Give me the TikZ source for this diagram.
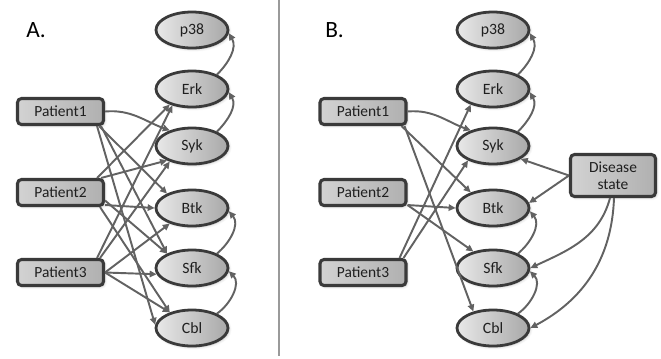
\documentclass[tikz,border=0pt]{standalone}
\usepackage{fontspec}
\setmainfont{Carlito}
\usetikzlibrary{shapes.geometric,arrows.meta,calc,shadows.blur}
\definecolor{edgec}{HTML}{626262}
\definecolor{bordc}{HTML}{3A3A3A}
\definecolor{divc}{HTML}{9A9A9A}
\begin{document}
\begin{tikzpicture}[x=0.75pt,y=0.75pt,
  shad/.style={blur shadow={shadow blur steps=6,shadow xshift=1pt,shadow yshift=-1pt,shadow opacity=22}},
  prot/.style={ellipse,draw=bordc,line width=2.1pt,minimum width=54pt,minimum height=27pt,inner sep=0pt,
    left color=gray!18,right color=gray!68,shad,font=\fontsize{11.8}{13}\selectfont,text=black!88},
  pat/.style={rectangle,rounded corners=3pt,draw=bordc,line width=2.3pt,minimum width=64.5pt,minimum height=19.5pt,inner sep=0pt,
    left color=gray!35,middle color=gray!14,right color=gray!62,shad,font=\fontsize{11.6}{13}\selectfont,text=black!88},
  dis/.style={pat,minimum width=63.75pt,minimum height=31.5pt,align=center,font=\fontsize{11.6}{12.5}\selectfont},
  arr/.style={draw=edgec,line width=1.45pt,-{Triangle[length=5.2pt,width=4.8pt]}},
  panel/.style={font=\fontsize{17.5}{20}\selectfont,inner sep=0pt,anchor=base west}
]
\useasboundingbox (0,0) rectangle (661,-358);

% divider
\coordinate (dtop) at (279,0);
\coordinate (dbot) at (279,-356);
\draw[divc,line width=0.8pt] (dtop) -- (dbot);

% panel labels
\node[panel] (labA) at (26,-37) {A.};
\node[panel] (labB) at (325,-37) {B.};

% ---------- Panel A ----------
\node[prot] (p38A) at (192,-30) {p38};
\node[prot] (ErkA) at (192,-89) {Erk};
\node[prot] (SykA) at (192,-146) {Syk};
\node[prot] (BtkA) at (192,-208) {Btk};
\node[prot] (SfkA) at (192,-268) {Sfk};
\node[prot] (CblA) at (192,-328) {Cbl};
\node[pat] (P1A) at (60.5,-111.5) {Patient1};
\node[pat] (P2A) at (60.5,-192.5) {Patient2};
\node[pat] (P3A) at (60.5,-272.5) {Patient3};

\draw[arr] (P1A.east) to[out=5,in=160] (SykA.145);
\draw[arr] ($(P1A.south east)+(-6,0)$) -- (BtkA.150);
\draw[arr] ($(P1A.south east)+(-4,0)$) -- (SfkA.150);
\draw[arr] ($(P1A.south east)+(-8,0)$) -- (CblA.175);
\draw[arr] ($(P2A.north east)+(-8,0)$) -- (ErkA.215);
\draw[arr] ($(P2A.north east)+(-4,0)$) -- (SykA.210);
\draw[arr] ($(P2A.south east)+(0,2)$) -- (BtkA.west);
\draw[arr] ($(P2A.east)+(0,-8)$) -- (SfkA.150);
\draw[arr] ($(P2A.south east)+(-5,0)$) -- (CblA.145);
\draw[arr] ($(P3A.north east)+(-8,0)$) -- (ErkA.220);
\draw[arr] ($(P3A.north east)+(-5,0)$) -- (SykA.215);
\draw[arr] (P3A.east) -- (BtkA.215);
\draw[arr] (P3A.east) -- (SfkA.190);
\draw[arr] (P3A.east) -- (CblA.145);

\draw[arr] (ErkA.30) to[out=45,in=-60] (p38A.-5);
\draw[arr] (SykA.30) to[out=45,in=-60] (ErkA.-5);
\draw[arr] (SfkA.30) to[out=40,in=-50] (BtkA.-5);
\draw[arr] (CblA.30) to[out=35,in=-45] (SfkA.-5);

% ---------- Panel B ----------
\node[prot] (p38B) at (493,-30) {p38};
\node[prot] (ErkB) at (493,-89) {Erk};
\node[prot] (SykB) at (493,-146) {Syk};
\node[prot] (BtkB) at (493,-208) {Btk};
\node[prot] (SfkB) at (493,-268) {Sfk};
\node[prot] (CblB) at (493,-328) {Cbl};
\node[pat] (P1B) at (363,-111.5) {Patient1};
\node[pat] (P2B) at (363,-192.5) {Patient2};
\node[pat] (P3B) at (363,-272.5) {Patient3};
\node[dis] (Dis) at (613,-175.5) {Disease\\state};

\draw[arr] (P1B.east) to[out=5,in=160] (SykB.145);
\draw[arr] ($(P1B.south east)+(-6,0)$) -- (BtkB.145);
\draw[arr] ($(P1B.south east)+(-3,0)$) -- (CblB.140);
\draw[arr] ($(P2B.south east)+(0,2)$) -- (BtkB.west);
\draw[arr] ($(P2B.south east)+(0,2)$) -- (SfkB.140);
\draw[arr] ($(P3B.north east)+(-8,0)$) -- (ErkB.215);
\draw[arr] ($(P3B.north east)+(-4,0)$) -- (SykB.210);

\draw[arr] (ErkB.30) to[out=45,in=-60] (p38B.-5);
\draw[arr] (SykB.30) to[out=45,in=-60] (ErkB.-5);
\draw[arr] (SfkB.30) to[out=40,in=-50] (BtkB.-5);
\draw[arr] (CblB.30) to[out=35,in=-45] (SfkB.-5);

\draw[arr] (Dis.west) -- (SykB.-25);
\draw[arr] (Dis.west) -- (BtkB.8);
\draw[arr] ($(Dis.south)+(-3,0)$) to[out=-105,in=25] (SfkB.east);
\draw[arr] ($(Dis.south)+(1,0)$) to[out=-92,in=28] (CblB.east);
\end{tikzpicture}
\end{document}
